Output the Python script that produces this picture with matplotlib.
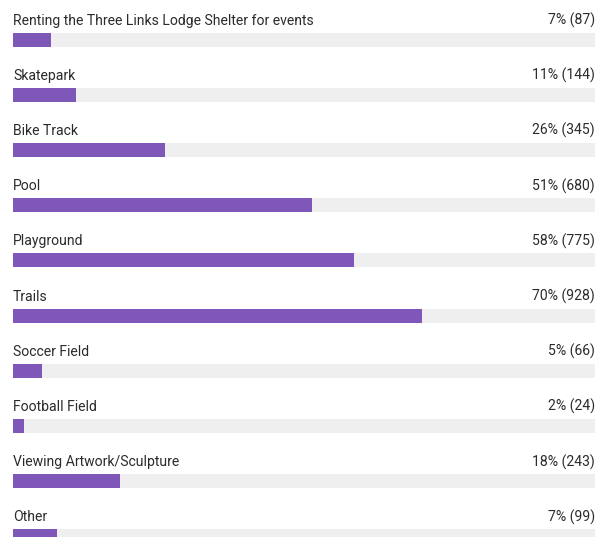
import matplotlib.pyplot as plt

categories = ["Renting the Three Links Lodge Shelter for events", "Skatepark",
              "Bike Track", "Pool", "Playground", "Trails", "Soccer Field",
              "Football Field", "Viewing Artwork/Sculpture", "Other"]
percents = [7, 11, 26, 51, 58, 70, 5, 2, 18, 7]
counts = [87, 144, 345, 680, 775, 928, 66, 24, 243, 99]
respondents = 1322  # estimated total behind the percentages

plt.rcParams['font.family'] = ['Roboto', 'DejaVu Sans']

W, H = 606, 537
fig = plt.figure(figsize=(W / 100, H / 100), dpi=100)
left, right = 13, 595
ax = fig.add_axes([left / W, 0, (right - left) / W, 1])

row = 55.2
top = 39.5
ax.set_xlim(0, 1)
ax.set_ylim((H - top) / row, -top / row)
ax.axis('off')

ys = list(range(len(categories)))
frac = [c / respondents for c in counts]
ax.barh(ys, [1] * len(ys), height=14 / row, left=0, color='#efefef', linewidth=0)
ax.barh(ys, frac, height=14 / row, left=0, color='#7e57b8', linewidth=0)

for y, name, p, c in zip(ys, categories, percents, counts):
    ax.text(0, y - 15 / row, name, ha='left', va='baseline', fontsize=10.1, color='#2b2b2b')
    ax.text(1, y - 15 / row, f"{p}% ({c})", ha='right', va='baseline', fontsize=10.1, color='#2b2b2b')

fig.savefig('out.png', dpi=100)
